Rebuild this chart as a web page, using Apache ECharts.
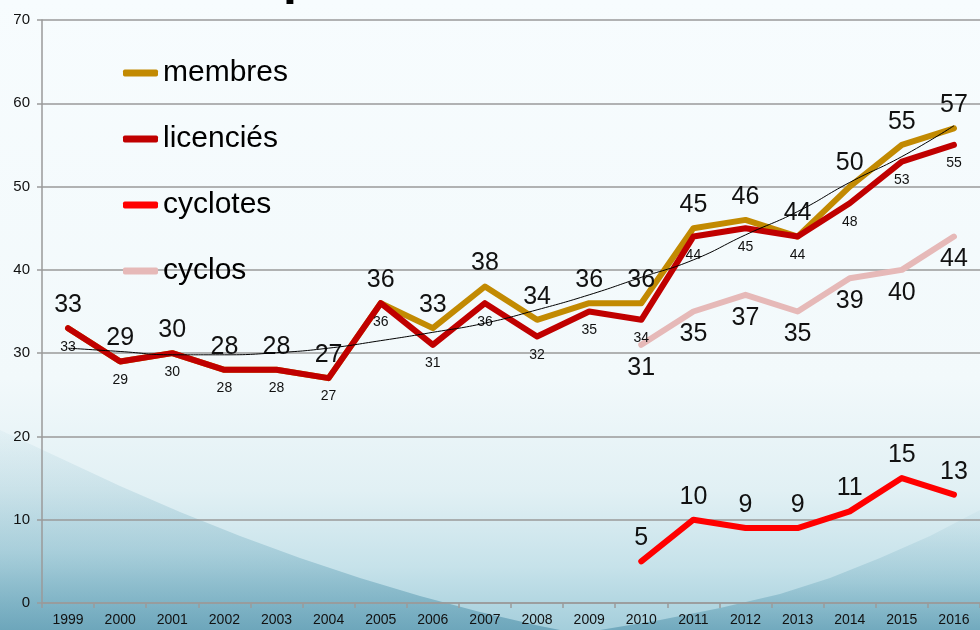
<!DOCTYPE html>
<html>
<head>
<meta charset="utf-8">
<script src="https://cdn.jsdelivr.net/npm/echarts@6/dist/echarts.min.js"></script>
<style>html,body{margin:0;padding:0;}#c{width:980px;height:630px;}</style>
</head>
<body>
<div id="c"></div>
<script>
var years = ['1999','2000','2001','2002','2003','2004','2005','2006','2007','2008','2009','2010','2011','2012','2013','2014','2015','2016'];
var membres   = [33,29,30,28,28,27,36,33,38,34,36,36,45,46,44,50,55,57];
var licencies = [33,29,30,28,28,27,36,31,36,32,35,34,44,45,44,48,53,55];
var cyclotes  = [null,null,null,null,null,null,null,null,null,null,null,5,10,9,9,11,15,13];
var cyclos    = [null,null,null,null,null,null,null,null,null,null,null,31,35,37,35,39,40,44];
// trend line (membres)
var tendance  = [30.6,30.2,29.8,29.8,30.05,30.6,31.5,32.5,33.6,35.2,37.0,39.1,41.2,44.2,47.0,50.5,53.6,57.3];
var yTicks = [0,10,20,30,40,50,60,70];

var FONT = 'Liberation Sans, Arial, sans-serif';
var chart = echarts.init(document.getElementById('c'), null, {renderer:'canvas'});

function lineSeries(name, data, color, labelPos, labelSize, z){
  return {
    name: name, type: 'line', data: data, z: z,
    symbol: 'circle', symbolSize: 1, showSymbol: true,
    itemStyle: {color: color},
    lineStyle: {color: color, width: 6, cap: 'round', join: 'round'},
    label: {show: true, position: labelPos, distance: labelSize > 20 ? 10 : 11,
      fontSize: labelSize, fontFamily: FONT, color: '#111'},
    emphasis: {disabled: true},
    animation: false
  };
}

var waveLeft = [[0,430],[60,458],[120,486],[180,512],[240,536],[300,558],[360,578],[420,596],[480,612],[540,626],[560,630],[0,630]];
var waveRight = [[980,510],[930,536],[880,558],[830,578],[780,594],[720,608],[660,620],[600,630],[980,630]];

var option = {
  animation: false,
  backgroundColor: {
    type: 'linear', x: 0, y: 0, x2: 0, y2: 1,
    colorStops: [
      {offset: 0, color: '#f7fcfe'},
      {offset: 0.6, color: '#f2f9fb'},
      {offset: 0.78, color: '#e1f0f4'},
      {offset: 0.9, color: '#c6e2ea'},
      {offset: 1, color: '#a4cedb'}
    ]
  },
  graphic: [
    {type: 'polygon', z: -10, silent: true,
      shape: {points: waveLeft},
      style: {fill: {type:'linear', x:0, y:0, x2:0, y2:1, colorStops:[{offset:0,color:'rgba(110,170,190,0.06)'},{offset:0.6,color:'rgba(95,160,182,0.32)'},{offset:1,color:'rgba(80,145,170,0.65)'}]}}},
    {type: 'polygon', z: -10, silent: true,
      shape: {points: waveRight},
      style: {fill: {type:'linear', x:0, y:0, x2:0, y2:1, colorStops:[{offset:0,color:'rgba(110,170,190,0.06)'},{offset:0.6,color:'rgba(95,160,182,0.32)'},{offset:1,color:'rgba(80,145,170,0.6)'}]}}},
    {type: 'text', z: 10, x: 283, y: -20, silent: true,
      style: {text: 'p', font: 'bold 50px ' + FONT, fill: '#000', verticalAlign: 'middle'}}
  ],
  legend: {
    orient: 'vertical', left: 123, top: 58, padding: 0,
    itemWidth: 35, itemHeight: 7, itemGap: 36, icon: 'roundRect',
    data: ['membres','licenciés','cyclotes','cyclos'],
    textStyle: {fontSize: 30, fontFamily: FONT, color: '#000'},
    selectedMode: false
  },
  grid: {left: 42, top: 20, width: 942, height: 583, containLabel: false},
  xAxis: {
    type: 'category', data: years, boundaryGap: true,
    axisLine: {lineStyle: {color: '#9a9a9a', width: 1.5}},
    axisTick: {show: true, length: 5, lineStyle: {color: '#9a9a9a', width: 1.5}},
    axisLabel: {fontSize: 14, fontFamily: FONT, color: '#111', margin: 10, interval: 0}
  },
  yAxis: {
    type: 'value', min: yTicks[0], max: yTicks[yTicks.length-1], interval: 10,
    axisLine: {show: true, lineStyle: {color: '#9a9a9a', width: 1.5}},
    axisTick: {show: true, length: 5, lineStyle: {color: '#9a9a9a', width: 1.5}},
    splitLine: {lineStyle: {color: '#9a9a9a', width: 1.5}},
    axisLabel: {fontSize: 15, fontFamily: FONT, color: '#111', margin: 12}
  },
  series: [
    lineSeries('membres', membres, '#c28a02', 'top', 25, 3),
    lineSeries('licenciés', licencies, '#c00000', 'bottom', 14, 4),
    lineSeries('cyclotes', cyclotes, '#ff0000', 'top', 25, 3),
    lineSeries('cyclos', cyclos, '#e6b9b8', 'bottom', 25, 3),
    {
      name: 'tendance', type: 'line', data: tendance, smooth: true, z: 5,
      symbol: 'none', lineStyle: {color: '#000', width: 1}, emphasis: {disabled: true}
    }
  ]
};
chart.setOption(option);
</script>
</body>
</html>
